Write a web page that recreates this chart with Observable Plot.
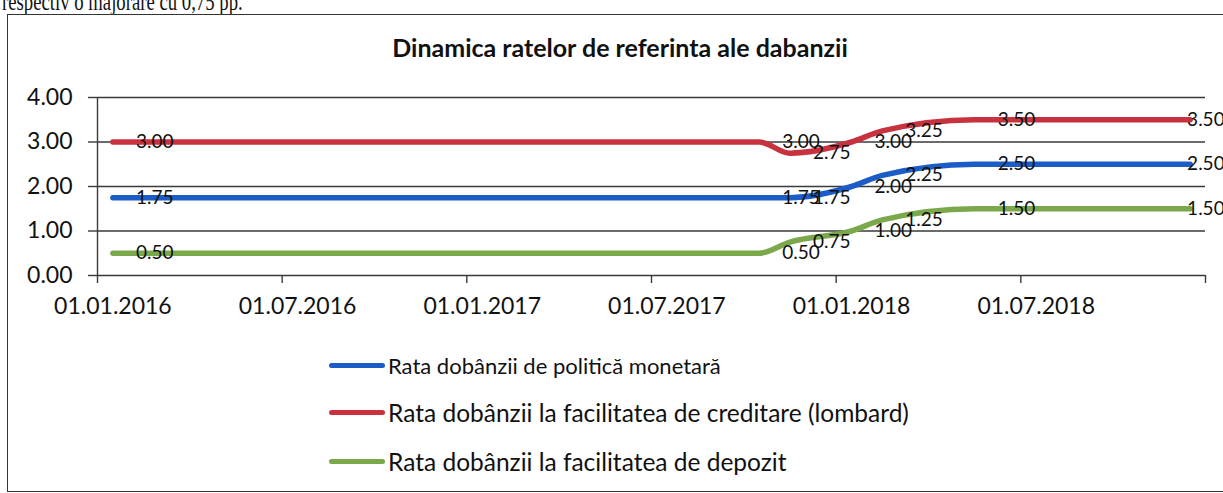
<!DOCTYPE html>
<html>
<head>
<meta charset="utf-8">
<script src="https://cdn.jsdelivr.net/npm/d3@7"></script>
<script src="https://cdn.jsdelivr.net/npm/@observablehq/plot@0.6"></script>
<style>
  html, body { margin: 0; padding: 0; background: #ffffff; width: 1223px; height: 493px; overflow: hidden; }
  #page { position: relative; width: 1223px; height: 493px; }
  #cuttext { position: absolute; left: 2px; top: -11px; font-family: "Liberation Serif", serif; font-size: 26px; line-height: 26px; color: #111; white-space: nowrap; transform-origin: 0 0; transform: scaleX(0.72); }
  #frame { position: absolute; left: 7px; top: 14px; width: 1250px; height: 476px; border: 1.5px solid #333; }
  #title { position: absolute; left: 620px; top: 33px; transform: translateX(-50%); font-family: Lato, sans-serif; font-weight: bold; font-size: 25px; line-height: 28px; color: #111; white-space: nowrap; }
  #chart { position: absolute; left: 0; top: 70px; }
  #legend { position: absolute; left: 329px; top: 350px; font-family: Lato, sans-serif; color: #111; }
  .row { position: absolute; left: 0; display: flex; align-items: center; white-space: nowrap; height: 30px; }
  .sw { width: 56px; height: 5px; border-radius: 3px; margin-right: 3px; }
</style>
</head>
<body>
<div id="page">
  <div id="cuttext">respectiv o majorare cu 0,75 pp.</div>
  <div id="frame"></div>
  <div id="title">Dinamica ratelor de referinta ale dabanzii</div>
  <div id="chart"></div>
  <div id="legend"></div>
</div>
<script>
// ---- data ----
const dates = ["01.01.2016", "01.10.2017", "01.11.2017", "01.01.2018", "01.02.2018", "01.05.2018", "01.12.2018"];
const policyRate = [1.75, 1.75, 1.75, 2.00, 2.25, 2.50, 2.50];
const lombardRate = [3.00, 3.00, 2.75, 3.00, 3.25, 3.50, 3.50];
const depositRate = [0.50, 0.50, 0.75, 1.00, 1.25, 1.50, 1.50];
const seriesNames = [
  "Rata dobânzii de politică monetară",
  "Rata dobânzii la facilitatea de creditare (lombard)",
  "Rata dobânzii la facilitatea de depozit"
];
const seriesColors = ["#1b5cc6", "#c8323f", "#7ba84a"];
const xTickLabels = ["01.01.2016", "01.07.2016", "01.01.2017", "01.07.2017", "01.01.2018", "01.07.2018"];
const yTicks = [0, 1, 2, 3, 4];

// month index (centre of the month band), as in an Excel date axis with base unit = months
const monthPos = s => { const [d, m, y] = s.split(".").map(Number); return (y - 2016) * 12 + (m - 1) + 0.5; };

const seriesValues = [policyRate, lombardRate, depositRate];
const rows = [];
seriesNames.forEach((name, si) => {
  dates.forEach((dt, i) => rows.push({series: name, x: monthPos(dt), v: seriesValues[si][i], last: i === dates.length - 1}));
});
const xEnd = monthPos(dates[dates.length - 1]) + 0.5;
const xTickMarks = xTickLabels.map(s => monthPos(s) - 0.5).concat([xEnd]);
const labelPos = xTickLabels.map(monthPos);

const plot = Plot.plot({
  width: 1223,
  height: 260,
  marginTop: 27,
  marginBottom: 55,
  marginLeft: 97,
  marginRight: 18,
  style: {fontFamily: "Lato, sans-serif", background: "transparent", color: "#111", overflow: "visible"},
  x: {type: "linear", domain: [0, xEnd]},
  y: {domain: [0, 4]},
  color: {domain: seriesNames, range: seriesColors},
  marks: [
    Plot.ruleY(yTicks, {stroke: "#3a3a3a", strokeWidth: 1.4, strokeOpacity: 1}),
    Plot.ruleX([0], {stroke: "#3a3a3a", strokeWidth: 1.4}),
    Plot.axisY(yTicks, {tickSize: 9, tickPadding: 16, tickFormat: d => d.toFixed(2), fontSize: 23, stroke: "#3a3a3a", strokeWidth: 1.4, label: null}),
    Plot.axisX(xTickMarks, {tickSize: 8, tickFormat: () => "", stroke: "#3a3a3a", strokeWidth: 1.4, label: null}),
    Plot.axisX(labelPos, {tickSize: 0, tickPadding: 22, tickFormat: (d, i) => xTickLabels[i], fontSize: 23, label: null}),
    Plot.line(rows, {x: "x", y: "v", z: "series", stroke: "series", strokeWidth: 5.5, curve: "monotone-x", strokeLinecap: "round", strokeLinejoin: "round"}),
    Plot.text(rows.filter(d => !d.last), {x: "x", y: "v", text: d => d.v.toFixed(2), dx: 23, textAnchor: "start", fontSize: 19, fill: "#111"}),
    Plot.text(rows.filter(d => d.last), {x: "x", y: "v", text: d => d.v.toFixed(2), dx: -3, textAnchor: "start", fontSize: 19, fill: "#111"})
  ]
});
document.getElementById("chart").appendChild(plot);

// ---- legend ----
const legend = document.getElementById("legend");
const rowTops = [0, 47, 96];
const rowSizes = [22, 24.5, 24.5];
seriesNames.forEach((name, i) => {
  const r = document.createElement("div");
  r.className = "row";
  r.style.top = rowTops[i] + "px";
  r.innerHTML = `<div class="sw" style="background:${seriesColors[i]}"></div><span style="font-size:${rowSizes[i]}px">${name}</span>`;
  legend.appendChild(r);
});
</script>
</body>
</html>
